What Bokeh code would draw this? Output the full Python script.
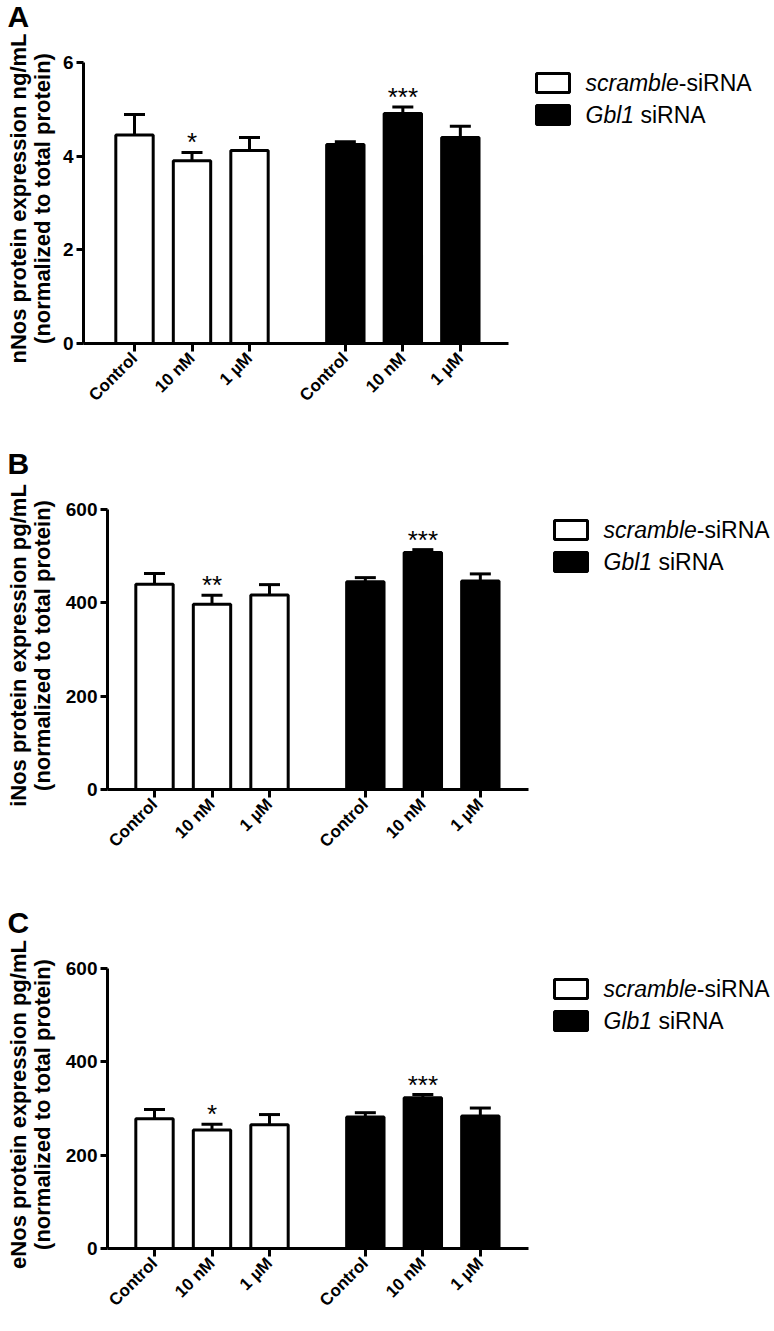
import math
from bokeh.plotting import figure
from bokeh.models import Range1d, FixedTicker, Whisker, TeeHead, ColumnDataSource
from bokeh.layouts import column
from bokeh.embed import file_html
from bokeh.resources import INLINE
from bokeh.core.properties import value

# ---------------- data ----------------
categories = ["Control", "10 nM", "1 \u00b5M"]

# Panel A: nNos (ng/mL)
a_scr_mean = [4.45, 3.90, 4.12]
a_scr_sem = [0.44, 0.18, 0.28]
a_gbl_mean = [4.25, 4.91, 4.40]
a_gbl_sem = [0.06, 0.14, 0.24]
a_scr_sig = ["", "*", ""]
a_gbl_sig = ["", "***", ""]
a_yticks = [0, 2, 4, 6]

# Panel B: iNos (pg/mL)
b_scr_mean = [440, 397, 417]
b_scr_sem = [23, 19, 22]
b_gbl_mean = [445, 508, 447]
b_gbl_sem = [9, 6, 15]
b_scr_sig = ["", "**", ""]
b_gbl_sig = ["", "***", ""]
b_yticks = [0, 200, 400, 600]

# Panel C: eNos (pg/mL)
c_scr_mean = [278, 254, 265]
c_scr_sem = [20, 12, 22]
c_gbl_mean = [282, 323, 284]
c_gbl_sem = [9, 7, 17]
c_scr_sig = ["", "*", ""]
c_gbl_sig = ["", "***", ""]
c_yticks = [0, 200, 400, 600]

a_ylabel = ["nNos protein expression ng/mL", "(normalized to total protein)"]
b_ylabel = ["iNos protein expression pg/mL", "(normalized to total protein)"]
c_ylabel = ["eNos protein expression pg/mL", "(normalized to total protein)"]

ab_legend_italic = ["scramble", "Gbl1"]
ab_legend_rest = ["-siRNA", " siRNA"]
c_legend_italic = ["scramble", "Glb1"]
c_legend_rest = ["-siRNA", " siRNA"]

# ---------------- layout helpers ----------------
FONT = "Liberation Sans"
W = 774
UNIT = 57.5 / 3.0  # px per x unit (bar spacing = 3 units)
LEG_FS = 23
ADV = {"s": 500, "c": 500, "r": 333, "a": 556, "m": 833, "b": 556, "l": 222,
       "e": 556, "G": 778, "1": 556, " ": 278, "-": 333}


def text_width(t, fs):
    return sum(ADV.get(ch, 556) for ch in t) * fs / 1000.0


def make_panel(letter, ylabel, ymax, yticks, scr_mean, scr_sem, gbl_mean, gbl_sem,
               scr_sig, gbl_sig, leg_italic, leg_rest, H, ax_px, b0_px, top_py, zero_py, leg_px):
    pxpu = (zero_py - top_py) / ymax

    def px_x(px):  # figure px -> data x
        return (px - b0_px) / UNIT

    def px_y(py):  # figure py (from top) -> data y
        return (zero_py - py) / pxpu

    p = figure(width=W, height=H, output_backend="svg", toolbar_location=None,
               x_range=Range1d(px_x(0), px_x(W)), y_range=Range1d(px_y(H), px_y(0)),
               min_border=0)
    p.min_border_left = 0
    p.min_border_right = 0
    p.min_border_top = 0
    p.min_border_bottom = 0
    p.outline_line_color = None
    p.xgrid.visible = False
    p.ygrid.visible = False
    p.background_fill_color = "white"
    p.border_fill_color = "white"

    x_scr = [3 * i for i in range(len(categories))]
    x_gbl = [11 + 3 * i for i in range(len(categories))]
    xs = x_scr + x_gbl

    # bars
    p.vbar(x=x_scr, top=scr_mean, width=1.95, bottom=0, fill_color="white",
           line_color="black", line_width=3)
    p.vbar(x=x_gbl, top=gbl_mean, width=1.95, bottom=0, fill_color="black",
           line_color="black", line_width=3)

    # error bars (upper only)
    means = list(scr_mean) + list(gbl_mean)
    sems = list(scr_sem) + list(gbl_sem)
    uppers = [m + s for m, s in zip(means, sems)]
    src = ColumnDataSource(dict(x=xs, lower=means, upper=uppers))
    wh = Whisker(base="x", lower="lower", upper="upper", source=src,
                 upper_head=TeeHead(size=21, line_width=3, line_color="black"),
                 lower_head=None, line_width=3, line_color="black")
    p.add_layout(wh)

    # significance stars
    p.text(x=xs, y=uppers, text=list(scr_sig) + list(gbl_sig), text_align="center",
           text_baseline="alphabetic", y_offset=-10, text_font=value(FONT),
           text_font_size="26px", text_color="black")

    # legend (drawn with glyphs)
    leg_x = px_x(leg_px)
    ly = [px_y(top_py + 20.5), px_y(top_py + 52.5)]
    p.rect(x=[leg_x, leg_x], y=ly, width=33, height=19, width_units="screen",
           height_units="screen", fill_color=["white", "black"], line_color="black",
           line_width=3)
    p.text(x=[leg_x, leg_x], y=ly, text=leg_italic, x_offset=32.5,
           text_font=value(FONT), text_font_style="italic", text_font_size=f"{LEG_FS}px",
           text_baseline="middle", text_align="left", text_color="black")
    for it, rest, yy in zip(leg_italic, leg_rest, ly):
        stripped = rest.lstrip()
        off = 32.5 + text_width(it, LEG_FS) + text_width(rest[: len(rest) - len(stripped)], LEG_FS)
        p.text(x=[leg_x], y=[yy], text=[stripped], x_offset=off,
               text_font=value(FONT), text_font_size=f"{LEG_FS}px",
               text_baseline="middle", text_align="left", text_color="black")

    # panel letter
    p.text(x=[px_x(7)], y=[px_y(top_py - 46)], text=[letter], text_font=value(FONT),
           text_font_size="30px", text_font_style="bold", text_color="black",
           text_align="left", text_baseline="alphabetic")

    # y-axis title (two lines, rotated)
    p.text(x=[px_x(18), px_x(42)], y=[px_y(top_py + 136), px_y(top_py + 136)], text=ylabel,
           angle=math.pi / 2, text_font=value(FONT), text_font_size="22px",
           text_font_style="bold", text_color="black", text_align="center",
           text_baseline="middle")

    # axes (library axes, pinned at the data origin)
    for ax in (p.xaxis[0], p.yaxis[0]):
        ax.axis_line_width = 3
        ax.axis_line_color = "black"
        ax.major_tick_line_width = 3
        ax.major_tick_line_color = "black"
        ax.major_tick_in = 0
        ax.minor_tick_line_color = None
        ax.major_label_text_font = FONT
        ax.major_label_text_font_style = "bold"
        ax.major_label_text_color = "black"

    ya = p.yaxis[0]
    ya.fixed_location = px_x(ax_px)
    ya.bounds = (0, ymax)
    ya.ticker = FixedTicker(ticks=yticks)
    ya.major_tick_out = 7
    ya.major_label_standoff = 3
    ya.major_label_text_font_size = "19px"

    xa = p.xaxis[0]
    xa.fixed_location = 0
    xa.bounds = (px_x(ax_px), 19.5)
    xa.ticker = FixedTicker(ticks=xs)
    xa.major_label_overrides = {x: lab for x, lab in zip(xs, categories + categories)}
    xa.major_tick_out = 8
    xa.major_label_standoff = 4
    xa.major_label_orientation = math.pi / 4
    xa.major_label_text_font_size = "17px"
    return p


pA = make_panel("A", a_ylabel, 6, a_yticks, a_scr_mean, a_scr_sem, a_gbl_mean, a_gbl_sem,
                a_scr_sig, a_gbl_sig, ab_legend_italic, ab_legend_rest,
                H=448, ax_px=83, b0_px=134, top_py=62, zero_py=343, leg_px=552.5)
pB = make_panel("B", b_ylabel, 600, b_yticks, b_scr_mean, b_scr_sem, b_gbl_mean, b_gbl_sem,
                b_scr_sig, b_gbl_sig, ab_legend_italic, ab_legend_rest,
                H=440, ax_px=107, b0_px=154, top_py=61, zero_py=341, leg_px=570.5)
pC = make_panel("C", c_ylabel, 600, c_yticks, c_scr_mean, c_scr_sem, c_gbl_mean, c_gbl_sem,
                c_scr_sig, c_gbl_sig, c_legend_italic, c_legend_rest,
                H=443, ax_px=107, b0_px=154, top_py=80, zero_py=360, leg_px=570.5)

layout = column(pA, pB, pC, spacing=0)
open("out.html", "w").write(file_html(layout, INLINE))
